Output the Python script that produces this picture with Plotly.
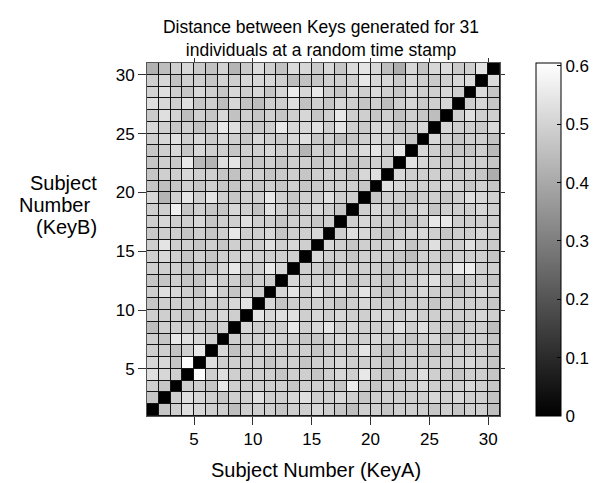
import plotly.graph_objects as go

# Subject numbers used as cell edges (pcolor-style: 31 edges -> 30 visible cells)
subjects = list(range(1, 32))
x_ticks = [5, 10, 15, 20, 25, 30]
y_ticks = [5, 10, 15, 20, 25, 30]
cbar_ticks = [0, 0.1, 0.2, 0.3, 0.4, 0.5, 0.6]
cbar_labels = ["0", "0.1", "0.2", "0.3", "0.4", "0.5", "0.6"]

# Distance values, row k = KeyB subject k (bottom to top), columns = KeyA 1..30
distance = [
    [0, .47, .49, .53, .51, .49, .49, .45, .49, .49, .49, .47, .49, .49, .51, .49, .47, .45, .49, .49, .47, .49, .49, .49, .47, .49, .47, .49, .49, .45],
    [.47, 0, .49, .53, .51, .49, .47, .49, .49, .53, .49, .49, .51, .53, .49, .49, .51, .49, .47, .49, .49, .49, .49, .49, .51, .49, .51, .49, .49, .46],
    [.49, .47, 0, .49, .49, .47, .55, .49, .49, .49, .49, .49, .47, .49, .49, .49, .47, .56, .49, .47, .49, .49, .49, .51, .49, .49, .49, .51, .49, .47],
    [.53, .51, .49, 0, .60, .49, .53, .49, .49, .49, .49, .47, .49, .49, .47, .49, .51, .49, .55, .49, .47, .49, .49, .53, .49, .49, .47, .49, .49, .47],
    [.51, .51, .47, .60, 0, .53, .49, .49, .49, .49, .47, .49, .49, .47, .49, .49, .51, .49, .49, .49, .47, .49, .49, .49, .49, .49, .49, .51, .49, .47],
    [.49, .49, .46, .49, .55, 0, .51, .46, .49, .49, .49, .49, .49, .49, .47, .49, .49, .49, .54, .49, .46, .49, .49, .49, .47, .49, .49, .49, .49, .47],
    [.49, .47, .55, .53, .51, .49, 0, .49, .49, .49, .51, .49, .49, .47, .47, .49, .51, .49, .49, .51, .49, .49, .47, .49, .51, .46, .49, .49, .49, .47],
    [.45, .49, .49, .49, .49, .47, .49, 0, .51, .49, .49, .49, .55, .49, .51, .54, .49, .51, .49, .49, .49, .53, .49, .53, .49, .49, .47, .49, .49, .45],
    [.49, .49, .49, .47, .49, .49, .51, .49, 0, .54, .51, .53, .53, .49, .51, .49, .51, .49, .49, .51, .51, .49, .51, .49, .49, .49, .49, .49, .51, .49],
    [.47, .49, .49, .49, .49, .49, .49, .51, .54, 0, .51, .47, .49, .49, .49, .49, .47, .49, .51, .49, .49, .49, .49, .49, .47, .49, .49, .49, .49, .47],
    [.49, .53, .51, .49, .47, .53, .49, .47, .51, .49, 0, .51, .54, .49, .53, .49, .51, .49, .54, .49, .47, .49, .49, .51, .49, .49, .47, .49, .51, .49],
    [.47, .47, .49, .47, .47, .51, .49, .49, .46, .49, .49, 0, .51, .49, .49, .49, .51, .47, .49, .49, .47, .49, .49, .51, .53, .49, .47, .49, .49, .47],
    [.49, .49, .49, .47, .49, .47, .51, .55, .49, .49, .55, .51, 0, .49, .49, .47, .49, .49, .49, .49, .47, .49, .49, .49, .49, .49, .55, .56, .49, .49],
    [.49, .51, .49, .47, .49, .47, .49, .49, .51, .49, .49, .49, .49, 0, .51, .49, .49, .47, .49, .49, .49, .47, .45, .49, .49, .47, .49, .49, .49, .47],
    [.49, .54, .49, .49, .47, .49, .47, .49, .49, .49, .53, .49, .51, .49, 0, .51, .49, .47, .49, .49, .49, .51, .47, .49, .53, .49, .49, .53, .49, .48],
    [.48, .49, .49, .47, .49, .47, .49, .55, .49, .49, .51, .47, .49, .49, .51, 0, .49, .53, .51, .49, .47, .49, .51, .51, .49, .47, .49, .49, .51, .49],
    [.49, .51, .49, .49, .51, .47, .49, .49, .53, .49, .49, .47, .49, .49, .47, .49, 0, .49, .51, .49, .49, .49, .47, .49, .55, .55, .49, .49, .49, .49],
    [.49, .49, .57, .47, .49, .47, .47, .51, .49, .46, .53, .49, .47, .49, .51, .49, .47, 0, .49, .51, .49, .47, .49, .51, .47, .49, .49, .49, .51, .49],
    [.51, .43, .49, .54, .49, .54, .49, .47, .49, .49, .55, .49, .47, .49, .49, .53, .49, .49, 0, .47, .49, .49, .47, .49, .49, .47, .49, .53, .51, .49],
    [.47, .45, .47, .49, .47, .49, .47, .47, .49, .47, .49, .47, .49, .47, .48, .49, .49, .49, .47, 0, .53, .51, .49, .49, .49, .51, .49, .47, .49, .47],
    [.47, .49, .49, .51, .49, .49, .47, .46, .49, .49, .47, .48, .49, .47, .49, .49, .49, .47, .51, .53, 0, .51, .49, .49, .49, .49, .48, .49, .47, .41],
    [.47, .49, .48, .55, .44, .43, .53, .54, .48, .47, .49, .47, .49, .49, .47, .49, .49, .47, .48, .49, .49, 0, .54, .51, .49, .48, .49, .49, .49, .47],
    [.47, .49, .51, .47, .51, .49, .49, .47, .49, .49, .51, .49, .49, .43, .49, .47, .51, .49, .52, .54, .49, .55, 0, .51, .49, .48, .47, .47, .49, .44],
    [.49, .51, .53, .49, .51, .48, .51, .49, .47, .51, .49, .48, .51, .53, .47, .49, .45, .47, .49, .51, .49, .49, .47, 0, .51, .49, .47, .49, .49, .46],
    [.51, .49, .47, .49, .46, .49, .55, .53, .49, .48, .49, .55, .51, .51, .53, .49, .54, .49, .48, .51, .51, .47, .49, .51, 0, .51, .49, .49, .48, .51],
    [.48, .53, .50, .45, .49, .47, .51, .46, .49, .47, .49, .47, .49, .51, .47, .49, .55, .49, .49, .47, .49, .46, .49, .47, .45, 0, .49, .53, .49, .49],
    [.53, .51, .49, .53, .47, .49, .45, .51, .46, .45, .49, .49, .53, .46, .49, .47, .51, .49, .47, .49, .45, .49, .51, .48, .49, .51, 0, .49, .51, .47],
    [.50, .53, .49, .47, .51, .49, .47, .51, .49, .51, .47, .51, .56, .51, .55, .49, .47, .51, .49, .52, .49, .47, .51, .49, .49, .51, .49, 0, .52, .47],
    [.49, .51, .46, .49, .49, .47, .50, .49, .51, .51, .51, .49, .45, .46, .47, .49, .49, .49, .55, .51, .51, .48, .51, .49, .48, .49, .51, .52, 0, .52],
    [.42, .45, .49, .51, .48, .46, .50, .43, .48, .52, .49, .46, .52, .51, .48, .51, .47, .52, .54, .51, .45, .41, .51, .46, .51, .52, .48, .49, .54, 0],
]

FONT = "Liberation Sans, Arial, Helvetica, sans-serif"
L, R, T, B = 139, 108, 55, 75
W, H = 600, 483
PW, PH = W - L - R, H - T - B


def px_x(px):
    return (px - L) / PW


def px_y(py):
    return (H - B - py) / PH


fig = go.Figure()
fig.add_trace(go.Heatmap(
    z=distance, x=subjects, y=subjects,
    colorscale=[[0, "#000000"], [1, "#ffffff"]],
    zmin=0, zmax=0.605,
    xgap=1, ygap=1,
    hoverinfo="skip",
    colorbar=dict(
        x=px_x(528), xanchor="left", y=0.5, yanchor="middle",
        len=1, lenmode="fraction", thickness=25, thicknessmode="pixels",
        xpad=0, ypad=0, outlinewidth=1, outlinecolor="#000000",
        tickvals=cbar_ticks, ticktext=cbar_labels,
        ticks="inside", ticklen=4, tickcolor="#000000",
        tickfont=dict(family=FONT, size=17, color="#000000"),
    ),
))
# empty trace to activate the mirrored (top/right) tick axes
fig.add_trace(go.Scatter(x=[], y=[], xaxis="x2", yaxis="y2", showlegend=False, hoverinfo="skip"))

axis_common = dict(
    range=[1, 31], showgrid=False, zeroline=False,
    tickfont=dict(family=FONT, size=17, color="#000000"),
)
fig.update_layout(
    width=W, height=H,
    margin=dict(l=L, r=R, t=T, b=B, pad=0),
    paper_bgcolor="#ffffff", plot_bgcolor="#141414",
    font=dict(family=FONT, color="#000000"),
    title=dict(
        text="Distance between Keys generated for 31<br>individuals at a random time stamp",
        x=313 / W, xanchor="center", xref="container",
        y=1 - 25 / H, yanchor="middle", yref="container",
        font=dict(family=FONT, size=17.5, color="#000000"),
    ),
    xaxis=dict(**axis_common, tickvals=x_ticks, ticks="outside", ticklen=8, tickcolor="#333333",
               showline=True, linecolor="#555555", linewidth=1, mirror=True),
    yaxis=dict(**axis_common, tickvals=y_ticks, ticks="outside", ticklen=8, tickcolor="#333333",
               showline=True, linecolor="#555555", linewidth=1, mirror=True),
    xaxis2=dict(range=[1, 31], overlaying="x", side="top", anchor="y2", tickvals=x_ticks,
                ticks="outside", ticklen=4, tickcolor="#333333", showticklabels=False,
                showgrid=False, zeroline=False, showline=False),
    yaxis2=dict(range=[1, 31], overlaying="y", side="right", anchor="x2", tickvals=y_ticks,
                ticks="outside", ticklen=4, tickcolor="#333333", showticklabels=False,
                showgrid=False, zeroline=False, showline=False),
    showlegend=False,
)

label_font = dict(family=FONT, size=20, color="#000000")
annots = [
    dict(text="Subject", x=px_x(91), y=px_y(175), xanchor="right", yanchor="middle"),
    dict(text="Number", x=px_x(84), y=px_y(197), xanchor="right", yanchor="middle"),
    dict(text="(KeyB)", x=px_x(91), y=px_y(219), xanchor="right", yanchor="middle"),
    dict(text="Subject Number (KeyA)", x=px_x(308), y=px_y(462), xanchor="center", yanchor="middle"),
]
for a in annots:
    fig.add_annotation(**a, xref="paper", yref="paper", showarrow=False, font=label_font)

fig.write_html("out.html")
